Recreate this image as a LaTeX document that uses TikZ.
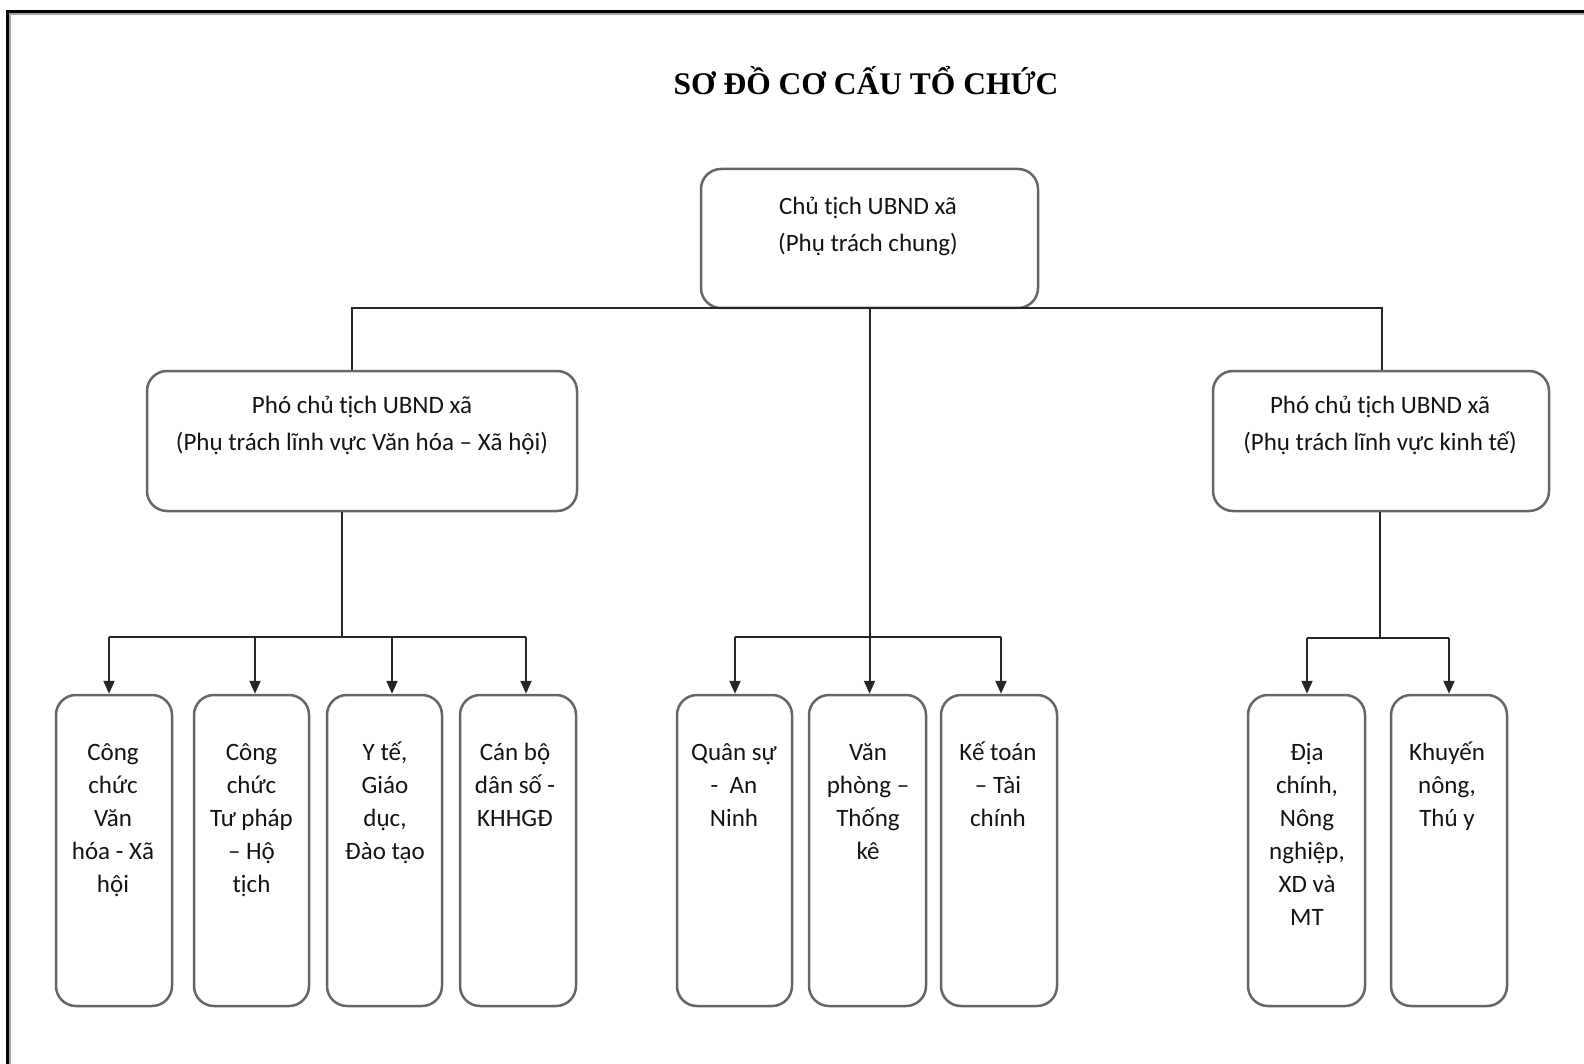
\documentclass[tikz,border=0pt]{standalone}
\usepackage{fontspec}
\setmainfont{Carlito}
\newfontfamily\titlefont{Liberation Serif}
\usetikzlibrary{arrows.meta}
\newcommand{\mystrut}{\rule{0pt}{1em}}
\begin{document}
\begin{tikzpicture}[x=1pt,y=-1pt,
  box/.style={draw=black!60, line width=2.5pt, rounded corners=20pt, inner sep=0pt},
  conn/.style={draw=black!85, line width=2pt},
  arr/.style={conn, -{Triangle[length=13pt,width=11pt]}},
  lbl/.style={anchor=north, align=center, inner sep=0pt, text=black!92, font=\fontsize{25}{33}\selectfont},
  lblh/.style={lbl, font=\fontsize{25}{37}\selectfont}]
\useasboundingbox (0,0) rectangle (1584,1064);
\fill[white] (0,0) rectangle (1584,1064);
% page border (left and top)
\draw[black!35, line width=1.6pt] (10,1064) -- (10,14.2) -- (1584,14.2);
\draw[black, line width=3pt] (7.5,1064) -- (7.5,11.5) -- (1584,11.5);
% title
\node[anchor=base, inner sep=0pt, font=\titlefont\bfseries\fontsize{31.5}{31.5}\selectfont] (title) at (866,95) {SƠ ĐỒ CƠ CẤU TỔ CHỨC};
% boxes
\node[box, minimum width=337pt, minimum height=139pt] (top) at (869.5,238.5) {};
\node[box, minimum width=430pt, minimum height=140pt] (vpL) at (362,441) {};
\node[box, minimum width=336pt, minimum height=140pt] (vpR) at (1381,441) {};
\node[box, minimum width=116pt, minimum height=311pt] (b1) at (114,850.5) {};
\node[box, minimum width=115pt, minimum height=311pt] (b2) at (251.5,850.5) {};
\node[box, minimum width=115pt, minimum height=311pt] (b3) at (384.5,850.5) {};
\node[box, minimum width=116pt, minimum height=311pt] (b4) at (518,850.5) {};
\node[box, minimum width=115pt, minimum height=311pt] (m1) at (734.5,850.5) {};
\node[box, minimum width=117pt, minimum height=311pt] (m2) at (867.5,850.5) {};
\node[box, minimum width=116pt, minimum height=311pt] (m3) at (999,850.5) {};
\node[box, minimum width=117pt, minimum height=311pt] (r1) at (1306.5,850.5) {};
\node[box, minimum width=116pt, minimum height=311pt] (r2) at (1449,850.5) {};
% labels
\node[lblh] (ttop) at (868,189) {\mystrut Chủ tịch UBND xã\\(Phụ trách chung)};
\node[lblh] (tvpL) at (362,388) {\mystrut Phó chủ tịch UBND xã\\(Phụ trách lĩnh vực Văn hóa – Xã hội)};
\node[lblh] (tvpR) at (1380,388) {\mystrut Phó chủ tịch UBND xã\\(Phụ trách lĩnh vực kinh tế)};
\node[lbl] (tb1) at (113,735) {\mystrut Công\\chức\\Văn\\hóa - Xã\\hội};
\node[lbl] (tb2) at (251.5,735) {\mystrut Công\\chức\\Tư pháp\\– Hộ\\tịch};
\node[lbl] (tb3) at (385,735) {\mystrut Y tế,\\Giáo\\dục,\\Đào tạo};
\node[lbl] (tb4) at (515,735) {\mystrut Cán bộ\\dân số -\\KHHGĐ};
\node[lbl] (tm1) at (734,735) {\mystrut Quân sự\\-\ \ An\\Ninh};
\node[lbl] (tm2) at (868,735) {\mystrut Văn\\phòng –\\Thống\\kê};
\node[lbl] (tm3) at (998,735) {\mystrut Kế toán\\– Tài\\chính};
\node[lbl] (tr1) at (1307,735) {\mystrut Địa\\chính,\\Nông\\nghiệp,\\XD và\\MT};
\node[lbl] (tr2) at (1447,735) {\mystrut Khuyến\\nông,\\Thú y};
% main bus
\coordinate (busL) at (352,308);
\coordinate (busR) at (1382,308);
\draw[conn] (busL |- vpL.north) -- (busL) -- (busR) -- (busR |- vpR.north);
\draw[arr] (top.south) -- (top.south |- m2.north);
% left group
\coordinate (jL) at (342,637);
\coordinate (aL1) at (109,637);
\coordinate (aL2) at (255,637);
\coordinate (aL3) at (392,637);
\coordinate (aL4) at (526,637);
\draw[conn] (jL |- vpL.south) -- (jL);
\draw[conn] (aL1) -- (aL4);
\draw[arr] (aL1) -- (aL1 |- b1.north);
\draw[arr] (aL2) -- (aL2 |- b2.north);
\draw[arr] (aL3) -- (aL3 |- b3.north);
\draw[arr] (aL4) -- (aL4 |- b4.north);
% middle group
\coordinate (aM1) at (735,637);
\coordinate (aM3) at (1001,637);
\draw[conn] (aM1) -- (aM3);
\draw[arr] (aM1) -- (aM1 |- m1.north);
\draw[arr] (aM3) -- (aM3 |- m3.north);
% right group
\coordinate (jR) at (1380,638);
\coordinate (aR1) at (1307,638);
\coordinate (aR2) at (1449,638);
\draw[conn] (jR |- vpR.south) -- (jR);
\draw[conn] (aR1) -- (aR2);
\draw[arr] (aR1) -- (aR1 |- r1.north);
\draw[arr] (aR2) -- (aR2 |- r2.north);
\end{tikzpicture}
\end{document}
